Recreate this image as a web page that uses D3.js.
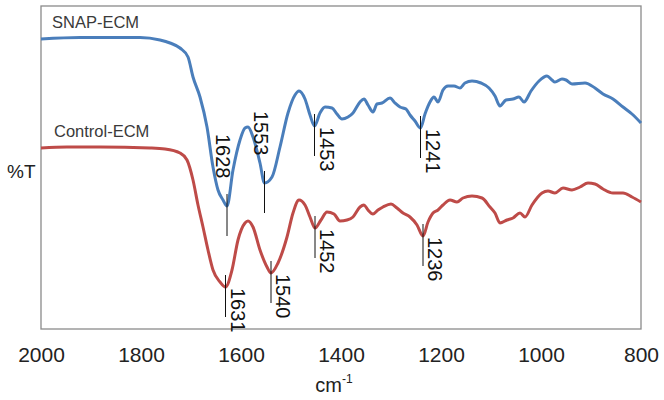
<!DOCTYPE html>
<html>
<head>
<meta charset="utf-8">
<script src="https://cdn.jsdelivr.net/npm/d3@7"></script>
<style>
  body { margin: 0; background: #fff; }
  svg { display: block; font-family: "Liberation Sans", Arial, sans-serif; }
</style>
</head>
<body>
<svg id="drawing_region"></svg>
<script>
const width = 664;
const height = 400;
const margin = { top: 6, right: 23, bottom: 71, left: 41 };

// wavenumber (cm-1) and transmittance (arbitrary units)
const snap_wn = [2000, 1922, 1802, 1762, 1742, 1722, 1706, 1696, 1682, 1668, 1656, 1646, 1636, 1628,
  1616, 1602, 1592, 1586, 1576, 1562, 1553, 1538, 1522, 1506, 1492, 1484, 1472, 1462, 1453, 1442,
  1432, 1418, 1408, 1398, 1386, 1376, 1362, 1354, 1346, 1336, 1328, 1318, 1302, 1292, 1282, 1270,
  1262, 1252, 1241, 1232, 1222, 1214, 1206, 1196, 1186, 1174, 1162, 1152, 1138, 1120, 1104, 1092,
  1082, 1070, 1056, 1044, 1034, 1020, 1004, 988, 978, 972, 958, 950, 938, 912, 892, 876, 856, 836,
  818, 800];
const snap_t = [290, 291.5, 291.5, 289, 286, 281, 272, 252, 232, 202, 162, 139, 129, 123,
  159, 189, 201, 202, 192, 166, 146, 152, 182, 216, 234, 238, 230, 214, 203, 216,
  222, 221, 215, 210, 212, 216, 227, 230, 224, 217, 225, 226, 231, 226, 222, 220,
  214, 208, 201, 215, 227, 232, 227, 239, 243, 243, 241, 246, 248, 246, 241, 233,
  223, 229, 230, 232, 227, 238, 248, 253, 249, 247, 250, 249, 245, 246, 241, 235, 230, 222,
  215, 206];

const control_wn = [2000, 1948, 1882, 1782, 1752, 1722, 1708, 1696, 1686, 1676, 1666, 1656, 1642, 1631,
  1618, 1606, 1592, 1586, 1576, 1562, 1548, 1540, 1526, 1508, 1496, 1484, 1472, 1462, 1452, 1440,
  1428, 1414, 1402, 1388, 1376, 1362, 1354, 1346, 1336, 1326, 1316, 1300, 1288, 1276, 1262, 1248,
  1236, 1226, 1216, 1206, 1196, 1182, 1168, 1156, 1138, 1118, 1102, 1092, 1082, 1068, 1056, 1042,
  1032, 1018, 998, 986, 972, 956, 938, 922, 906, 892, 876, 856, 836, 818, 800];
const control_t = [181, 182, 182, 181, 180, 176, 169, 149, 124, 102, 79, 59, 47, 42,
  59, 89, 106, 108, 102, 79, 62, 56, 66, 92, 116, 129, 124, 112, 101, 109,
  117, 115, 108, 109, 112, 122, 124, 119, 115, 119, 122, 125, 121, 116, 112, 104,
  93, 107, 116, 119, 124, 129, 127, 131, 133, 131, 122, 116, 106, 109, 111, 116,
  112, 124, 136, 138, 136, 141, 139, 142, 146, 145, 140, 136, 136, 132, 127];

const series_names = ["SNAP-ECM", "Control-ECM"];
const series_colors = ["#4a7ebb", "#be4b48"];
const snap_peaks = [1628, 1553, 1453, 1241];
const control_peaks = [1631, 1540, 1452, 1236];
const x_ticks = [2000, 1800, 1600, 1400, 1200, 1000, 800];

const svg = d3.select('#drawing_region')
    .attr('width', width)
    .attr('height', height);

const xscale = d3.scaleLinear()
    .domain([2000, 800])
    .range([margin.left, width - margin.right]);

const yscale = d3.scaleLinear()
    .domain([0, 323])
    .range([height - margin.bottom, margin.top]);

const series = [
    { name: series_names[0], color: series_colors[0], peaks: snap_peaks,
      points: snap_wn.map((w, i) => ({ wn: w, t: snap_t[i] })) },
    { name: series_names[1], color: series_colors[1], peaks: control_peaks,
      points: control_wn.map((w, i) => ({ wn: w, t: control_t[i] })) }
];

// plot frame
svg.append("rect")
    .attr("x", margin.left)
    .attr("y", margin.top)
    .attr("width", width - margin.left - margin.right)
    .attr("height", height - margin.top - margin.bottom)
    .attr("fill", "none")
    .attr("stroke", "#8a8a8a")
    .attr("stroke-width", 1.3);

// x axis, labels only
const xaxis = svg.append("g")
    .attr("transform", `translate(0, ${height - margin.bottom})`)
    .call(d3.axisBottom(xscale).tickValues(x_ticks).tickSize(0).tickPadding(18).tickFormat(d3.format("d")));
xaxis.select(".domain").remove();
xaxis.selectAll("text")
    .attr("font-size", "21px")
    .attr("font-family", "Liberation Sans, Arial, sans-serif")
    .attr("fill", "#222");

const xlabel = svg.append("text")
    .attr("x", 334)
    .attr("y", 392)
    .attr("text-anchor", "middle")
    .attr("font-size", "20px")
    .attr("fill", "#222");
xlabel.append("tspan").text("cm");
xlabel.append("tspan").attr("dy", -9).attr("font-size", "12px").text("-1");

svg.append("text")
    .attr("x", 7)
    .attr("y", 178)
    .attr("font-size", "19px")
    .attr("fill", "#222")
    .text("%T");

const line = d3.line()
    .x(d => xscale(d.wn))
    .y(d => yscale(d.t))
    .curve(d3.curveMonotoneX);

svg.selectAll("path.curve")
    .data(series)
    .join("path")
    .attr("class", "curve")
    .attr("d", d => line(d.points))
    .attr("fill", "none")
    .attr("stroke", d => d.color)
    .attr("stroke-width", 3)
    .attr("stroke-linejoin", "round");

// series names
svg.selectAll("text.name")
    .data(series)
    .join("text")
    .attr("class", "name")
    .attr("x", (d, i) => margin.left + 11 + i * 2)
    .attr("y", d => yscale(d.points[0].t) - 11)
    .attr("font-size", "16.5px")
    .attr("fill", "#3a3a3a")
    .text(d => d.name);

// peak markers
const peaks = series.flatMap(s => s.peaks.map((p, i) => {
    const near = d3.least(s.points, d => Math.abs(d.wn - p));
    return { wn: p, t: near.t, above: s.name === "SNAP-ECM" && i < 2 };
}));

svg.selectAll("line.peak")
    .data(peaks)
    .join("line")
    .attr("class", "peak")
    .attr("x1", d => xscale(d.wn))
    .attr("x2", d => xscale(d.wn))
    .attr("y1", d => yscale(d.t) - 12)
    .attr("y2", d => yscale(d.t) + 30)
    .attr("stroke", "#111")
    .attr("stroke-width", 1);

svg.selectAll("text.peak")
    .data(peaks)
    .join("text")
    .attr("class", "peak")
    .attr("transform", d => d.above
        ? `translate(${xscale(d.wn) - 11}, ${yscale(d.t) - 72}) rotate(90)`
        : `translate(${xscale(d.wn) + 5}, ${yscale(d.t) + 1}) rotate(90)`)
    .attr("font-size", "20px")
    .attr("fill", "#111")
    .text(d => d.wn);
</script>
</body>
</html>
